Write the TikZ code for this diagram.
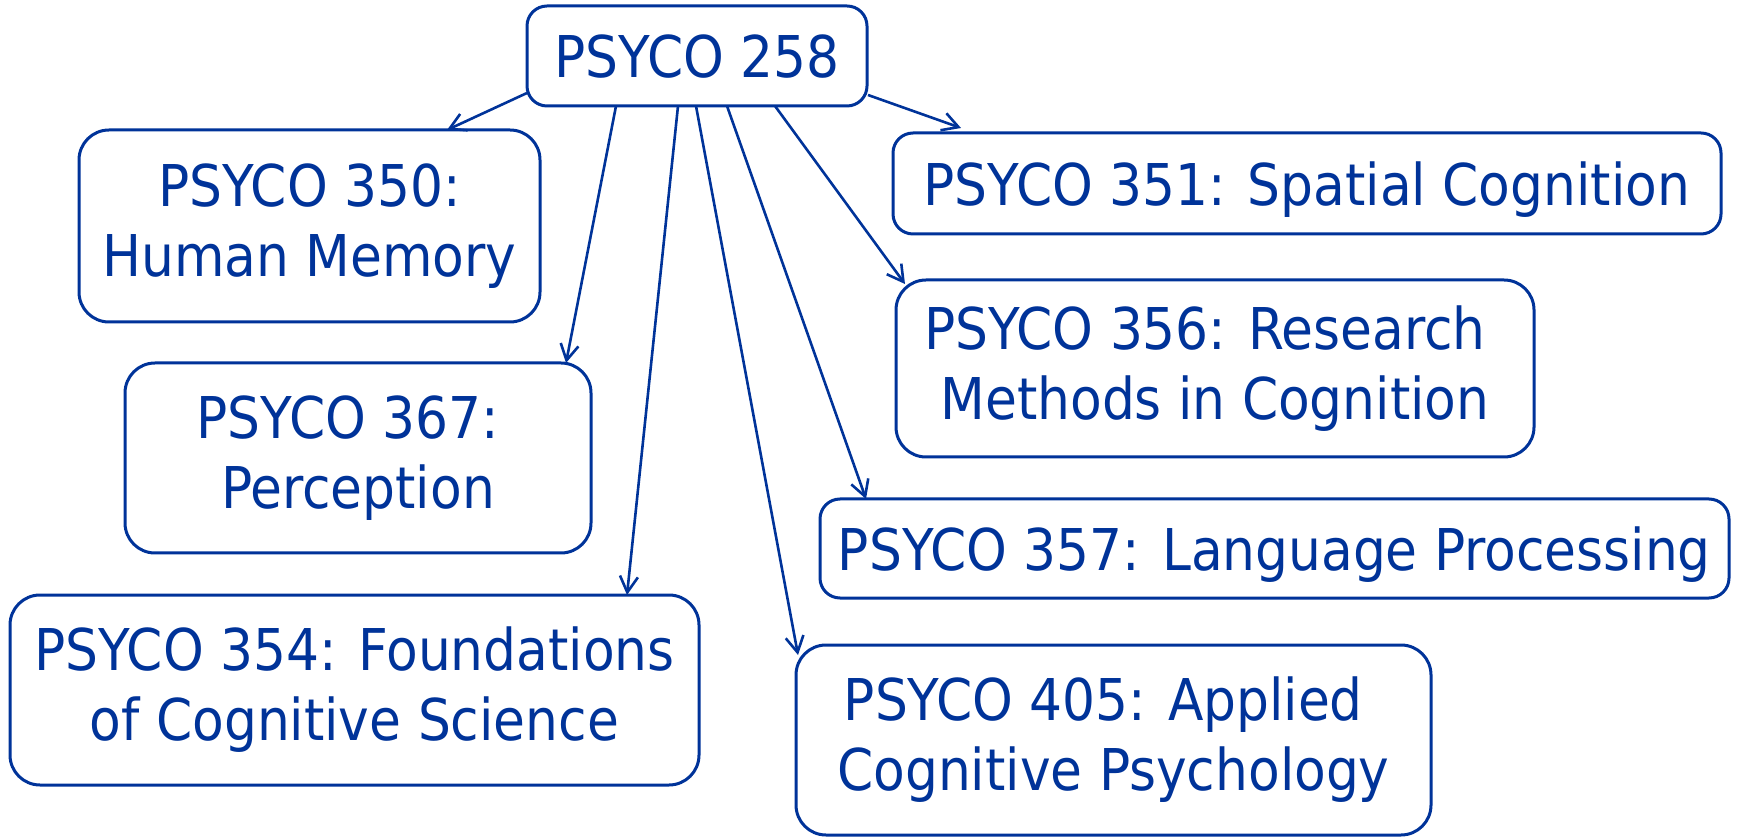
\documentclass[tikz,border=0pt]{standalone}
\usepackage{fontspec}
\setmainfont{DejaVu Sans Condensed}
\usetikzlibrary{arrows.meta,calc}
\definecolor{pblue}{RGB}{0,51,153}
\begin{document}
\begin{tikzpicture}[x=0.5pt,y=-0.5pt,
  box/.style={draw=pblue, line width=1.5pt, rounded corners=15pt, inner sep=0pt, outer sep=0pt,
    align=center, text=pblue, font=\fontsize{28.8pt}{35pt}\selectfont},
  sbox/.style={box, rounded corners=10pt, text depth=0pt},
  link/.style={draw=pblue, line width=1.3pt, -{Straight Barb[length=8pt,width=9pt]}}]
\useasboundingbox (0,0) rectangle (1743,838);
\node[sbox, minimum width=170pt, minimum height=50pt] (top) at (697,56) {PSYCO 258};
\node[box, minimum width=230.5pt, minimum height=96pt] (b350) at (309.5,226) {PSYCO 350:\\Human Memory};
\node[sbox, minimum width=414pt, minimum height=50.5pt] (b351) at (1307,183.5) {PSYCO 351: Spatial Cognition};
\node[box, minimum width=319pt, minimum height=88.5pt] (b356) at (1215,368.5) {PSYCO 356: Research\hspace*{0.35em}\\Methods in Cognition};
\node[box, minimum width=233pt, minimum height=95pt] (b367) at (358,458) {PSYCO 367:\hspace*{0.35em}\\Perception};
\node[sbox, minimum width=454.5pt, minimum height=49.5pt] (b357) at (1274.5,548.5) {PSYCO 357: Language Processing};
\node[box, minimum width=344.5pt, minimum height=95pt] (b354) at (354.5,690) {PSYCO 354: Foundations\\of Cognitive Science};
\node[box, minimum width=317.5pt, minimum height=95pt] (b405) at (1113.5,740) {PSYCO 405: Applied\hspace*{0.35em}\\Cognitive Psychology};
\draw[link] ($(top.south west)+(0,-13)$) -- ($(b350.north west)+(368,0)$);
\draw[link] ($(top.south east)+(1,-11)$) -- ($(b351.north west)+(68,-5)$);
\draw[link] ($(top.south west)+(89,0)$) -- ($(b367.north west)+(441,0)$);
\draw[link] ($(top.south west)+(151,0)$) -- ($(b354.north west)+(617,0)$);
\draw[link] ($(top.south west)+(169,0)$) -- ($(b405.north west)+(2,10)$);
\draw[link] ($(top.south west)+(200,0)$) -- ($(b357.north west)+(46,0)$);
\draw[link] ($(top.south west)+(248,0)$) -- ($(b356.north west)+(9,4)$);
\end{tikzpicture}
\end{document}
